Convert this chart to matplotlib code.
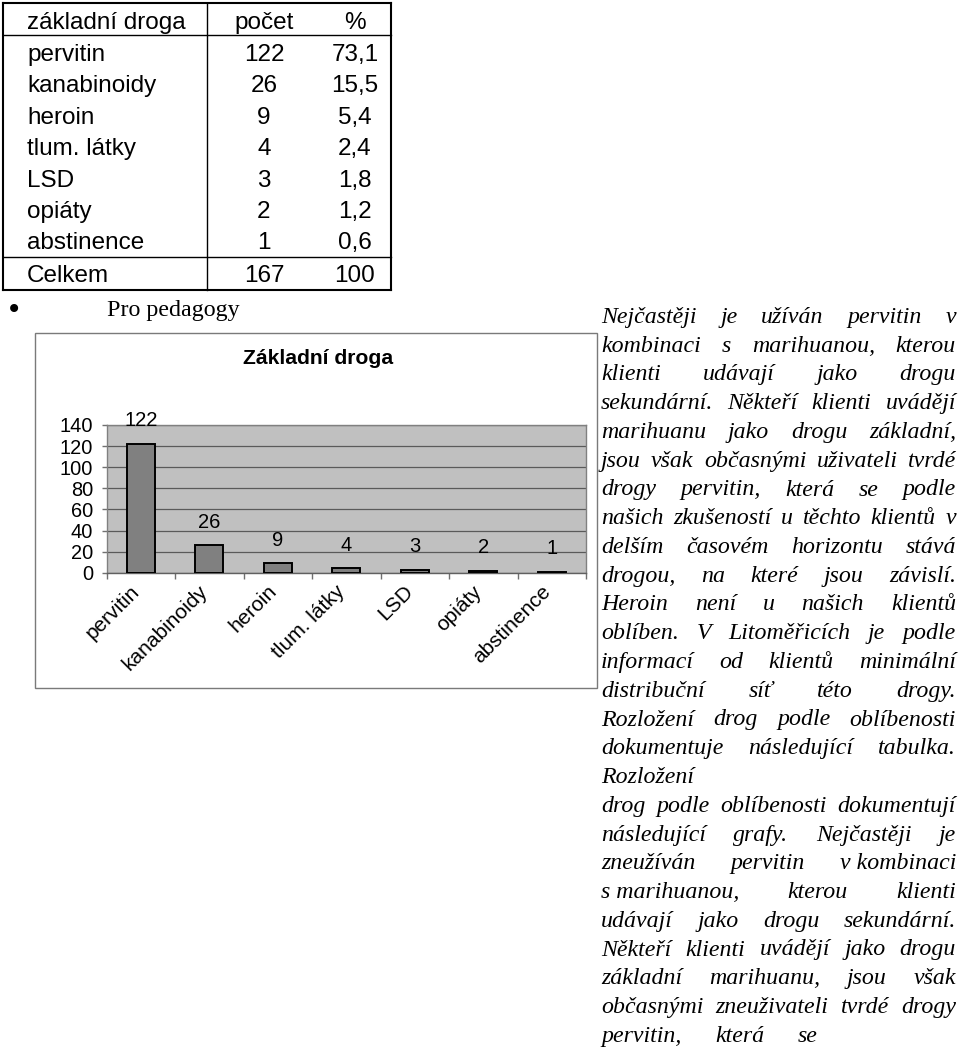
import matplotlib
matplotlib.use('Agg')
import matplotlib.pyplot as plt
from matplotlib.lines import Line2D
from matplotlib.patches import Rectangle
from matplotlib.transforms import blended_transform_factory, ScaledTranslation

W, H = 960, 1052

# ---------------- data ----------------
table_header = ['základní droga', 'počet', '%']
drugs = ['pervitin', 'kanabinoidy', 'heroin', 'tlum. látky', 'LSD', 'opiáty', 'abstinence']
counts = [122, 26, 9, 4, 3, 2, 1]
percents = ['73,1', '15,5', '5,4', '2,4', '1,8', '1,2', '0,6']
total_label = 'Celkem'
total_count = 167
total_pct = '100'
chart_title = 'Základní droga'
y_ticks = [0, 20, 40, 60, 80, 100, 120, 140]
bullet_text = 'Pro pedagogy'
paragraph_lines = [
    "Nejčastěji je užíván pervitin v",
    "kombinaci s marihuanou, kterou",
    "klienti udávají jako drogu",
    "sekundární. Někteří klienti uvádějí",
    "marihuanu jako drogu základní,",
    "jsou však občasnými uživateli tvrdé",
    "drogy pervitin, která se podle",
    "našich zkušeností u těchto klientů v",
    "delším časovém horizontu stává",
    "drogou, na které jsou závislí.",
    "Heroin není u našich klientů",
    "oblíben. V Litoměřicích je podle",
    "informací od klientů minimální",
    "distribuční síť této drogy.",
    "Rozložení drog podle oblíbenosti",
    "dokumentuje následující tabulka.",
    "Rozložení",
    "drog podle oblíbenosti dokumentují",
    "následující grafy. Nejčastěji je",
    "zneužíván pervitin v\u00a0kombinaci",
    "s\u00a0marihuanou, kterou klienti",
    "udávají jako drogu sekundární.",
    "Někteří klienti uvádějí jako drogu",
    "základní marihuanu, jsou však",
    "občasnými zneuživateli tvrdé drogy",
    "pervitin, která se",
]

# ---------------- figure ----------------
fig = plt.figure(figsize=(W / 100, H / 100), dpi=100)
fig.patch.set_facecolor('white')


def fx(px):
    return px / W


def fy(py):
    return 1 - py / H


def hline(x0, x1, y, lw=1.0, color='black'):
    fig.add_artist(Line2D([fx(x0), fx(x1)], [fy(y), fy(y)], transform=fig.transFigure,
                          color=color, lw=lw, solid_capstyle='projecting'))


def vline(x, y0, y1, lw=1.0, color='black'):
    fig.add_artist(Line2D([fx(x), fx(x)], [fy(y0), fy(y1)], transform=fig.transFigure,
                          color=color, lw=lw, solid_capstyle='projecting'))


# ---------------- table ----------------
SANS = 'Liberation Sans'
tfs = 17.5
hline(3, 391, 3, 1.5); hline(3, 391, 290, 1.5)
vline(3, 3, 290, 1.5); vline(391, 3, 290, 1.5)
hline(3, 391, 35, 1.0); hline(3, 391, 257, 1.0)
vline(207, 3, 290, 1.0)

name_x, count_x, pct_x = 27, 264, 355
fig.text(fx(name_x), fy(29), table_header[0], family=SANS, fontsize=tfs, va='baseline', ha='left')
fig.text(fx(count_x), fy(29), table_header[1], family=SANS, fontsize=tfs, va='baseline', ha='center')
fig.text(fx(pct_x), fy(29), table_header[2], family=SANS, fontsize=tfs, va='baseline', ha='center')
for i, (d, c, p) in enumerate(zip(drugs, counts, percents)):
    yb = 61 + i * 31.4
    fig.text(fx(name_x), fy(yb), d, family=SANS, fontsize=tfs, va='baseline', ha='left')
    fig.text(fx(count_x), fy(yb), str(c), family=SANS, fontsize=tfs, va='baseline', ha='center')
    fig.text(fx(pct_x), fy(yb), p, family=SANS, fontsize=tfs, va='baseline', ha='center')
fig.text(fx(name_x), fy(282), total_label, family=SANS, fontsize=tfs, va='baseline', ha='left')
fig.text(fx(count_x), fy(282), str(total_count), family=SANS, fontsize=tfs, va='baseline', ha='center')
fig.text(fx(pct_x), fy(282), total_pct, family=SANS, fontsize=tfs, va='baseline', ha='center')

# bullet line
fig.text(fx(13.5), fy(310), '•', family='DejaVu Sans', fontsize=20, ha='center', va='center')
fig.text(fx(107), fy(316), bullet_text, family='Liberation Serif', fontsize=17.3,
         ha='left', va='baseline')

# ---------------- chart ----------------
fig.add_artist(Rectangle((fx(35), fy(688)), fx(597) - fx(35), fy(333) - fy(688),
                         transform=fig.transFigure, fill=False, edgecolor='#7a7a7a', lw=1.0))
fig.text(fx(318), fy(364), chart_title, ha='center', va='baseline', fontsize=15.2,
         fontweight='bold', family=SANS)

ax = fig.add_axes([fx(106.7), fy(572.7), fx(586) - fx(106.7), fy(425) - fy(572.7)])
ax.set_facecolor('#c0c0c0')
xs = list(range(len(drugs)))
ax.bar(xs, counts, width=0.41, color='#808080', edgecolor='black', linewidth=1.4, zorder=3)
ax.set_xlim(-0.5, len(drugs) - 0.5)
ax.set_ylim(y_ticks[0], y_ticks[-1])
ax.set_yticks(y_ticks)
ax.set_yticklabels([str(v) for v in y_ticks], family=SANS, fontsize=14.4)
ax.yaxis.grid(True, color='#5a5a5a', lw=0.9, zorder=1)
ax.set_axisbelow(True)
ax.set_xticks([i - 0.5 for i in range(len(drugs) + 1)])
ax.set_xticklabels([])
ax.tick_params(axis='x', which='major', length=4, width=1, color='#707070', direction='out')
ax.tick_params(axis='y', length=3.6, width=1, color='#707070', direction='out', pad=6.3)
for s in ['top', 'right', 'left']:
    ax.spines[s].set_color('#808080')
ax.spines['bottom'].set_color('#606060')
for sp in ax.spines.values():
    sp.set_linewidth(1.0)

# rotated category labels
lab_tr = blended_transform_factory(ax.transData, ax.transAxes) + \
    ScaledTranslation(-11 / 100, -9 / 100, fig.dpi_scale_trans)
for x, lab in zip(xs, drugs):
    ax.text(x, 0, lab, transform=lab_tr, rotation=45, ha='right', va='top',
            rotation_mode='anchor', family=SANS, fontsize=15, clip_on=False)

for x, c in zip(xs, counts):
    ax.annotate(str(c), (x, c), xytext=(0, 12.6), textcoords='offset points',
                ha='center', va='baseline', family=SANS, fontsize=14.5, annotation_clip=False)

# ---------------- justified paragraph ----------------
serif_it = dict(family='Liberation Serif', style='italic', fontsize=17.2)
renderer = fig.canvas.get_renderer()
left_px = 601
full_right = 956
line_right = {16: None, 25: 818}
space_px = 0.25 * 17.2 * 100 / 72
for i, line in enumerate(paragraph_lines):
    yb = 323 + i * 28.75
    words = line.split(' ')
    texts = [fig.text(0, fy(yb), w, va='baseline', ha='left', **serif_it) for w in words]
    widths = [t.get_window_extent(renderer).width for t in texts]
    right = line_right.get(i, full_right)
    if right is None or len(words) == 1:
        gap = space_px
    else:
        gap = (right - left_px - sum(widths)) / (len(words) - 1)
    xcur = left_px
    for t, wd in zip(texts, widths):
        t.set_x(fx(xcur))
        xcur += wd + gap

fig.savefig('out.png', dpi=100)
